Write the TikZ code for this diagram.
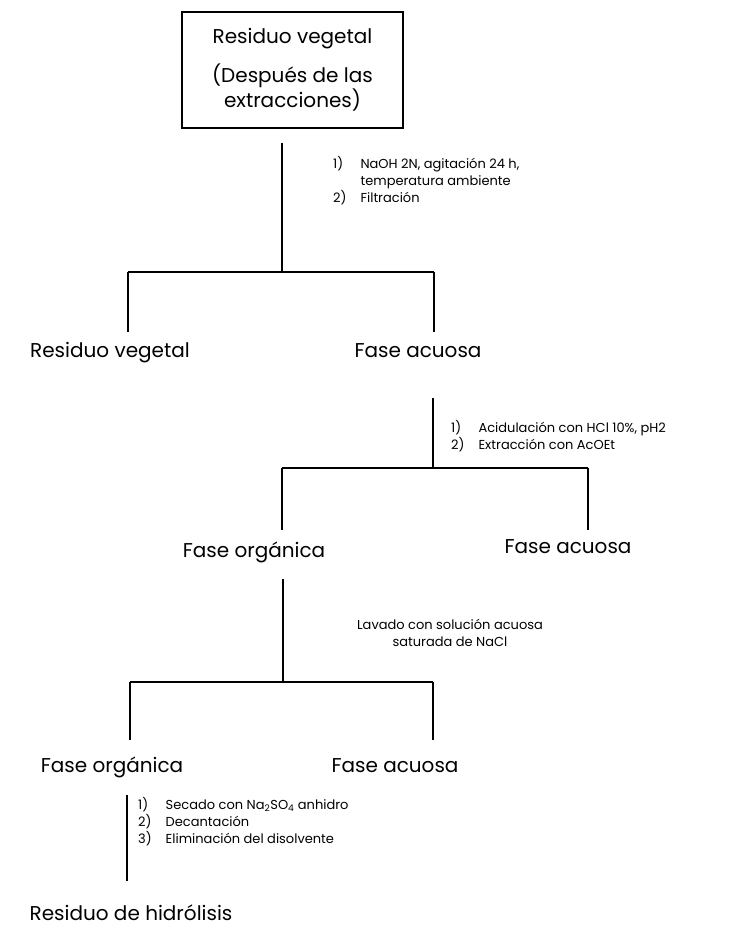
\documentclass[tikz,border=0pt]{standalone}
\usepackage{fontspec}
\setmainfont{Poppins}
\usetikzlibrary{positioning}

\begin{document}
\begin{tikzpicture}[x=1pt,y=-1pt,
		linea/.style={line width=1.7pt},
		fase/.style={font=\fontsize{20}{24}\selectfont, inner sep=1pt, text height=14pt, text depth=4pt},
		paso/.style={font=\fontsize{13}{17}\selectfont, inner sep=0pt, align=left}]
		\useasboundingbox (0,0) rectangle (741,939);
		\node[draw, linea, minimum width=221pt, minimum height=116pt, align=center, font=\fontsize{20}{22}\selectfont] (inicio) at (292.5,70) {Residuo vegetal\\[14pt](Después de las\\extracciones)};
		\node[fase] (resveg) at (110,352) {Residuo vegetal};
		\node[fase] (acu1) at (418,352) {Fase acuosa};
		\node[fase] (org2) at (254,552) {Fase orgánica};
		\node[fase] (acu2) at (568,548) {Fase acuosa};
		\node[fase] (org3) at (112,767) {Fase orgánica};
		\node[fase] (acu3) at (395,767) {Fase acuosa};
		\node[fase] (final) at (131,915) {Residuo de hidrólisis};
		\coordinate (b1) at (282,272);
		\coordinate (b1l) at (128,272);
		\coordinate (b1r) at (434,272);
		\coordinate (b2) at (433,468);
		\coordinate (b2l) at (282,468);
		\coordinate (b2r) at (588,468);
		\coordinate (b3) at (283,682);
		\coordinate (b3l) at (130,682);
		\coordinate (b3r) at (433,682);
		\coordinate (b4) at (127,800);
		\draw[linea, shorten <=14pt] (inicio.south -| b1) -- (b1);
		\draw[linea] (b1l) -- (b1r);
		\draw[linea, shorten >=10pt] (b1l) -- (b1l |- resveg.north);
		\draw[linea, shorten >=10pt] (b1r) -- (b1r |- acu1.north);
		\draw[linea, shorten <=36pt] (acu1.south -| b2) -- (b2);
		\draw[linea] (b2l) -- (b2r);
		\draw[linea, shorten >=12pt] (b2l) -- (b2l |- org2.north);
		\draw[linea, shorten >=8pt] (b2r) -- (b2r |- acu2.north);
		\draw[linea, shorten <=17pt] (org2.south -| b3) -- (b3);
		\draw[linea] (b3l) -- (b3r);
		\draw[linea, shorten >=17pt] (b3l) -- (b3l |- org3.north);
		\draw[linea, shorten >=17pt] (b3r) -- (b3r |- acu3.north);
		\draw[linea, shorten <=18pt, shorten >=24pt] (org3.south -| b4) -- (final.north -| b4);
		\node[paso, anchor=north west] (paso1) at (333,156) {\begin{tabular}{@{}l@{\hspace{14pt}}l@{}}1) & NaOH 2N, agitación 24 h,\\ & temperatura ambiente\\ 2) & Filtración\end{tabular}};
		\node[paso, anchor=north west] (paso2) at (451,420) {\begin{tabular}{@{}l@{\hspace{14pt}}l@{}}1) & Acidulación con HCl 10\%, pH2\\ 2) & Extracción con AcOEt\end{tabular}};
		\node[paso, align=center] (paso3) at (450,633) {Lavado con solución acuosa\\saturada de NaCl};
		\node[paso, anchor=north west] (paso4) at (138,797) {\begin{tabular}{@{}l@{\hspace{14pt}}l@{}}1) & Secado con Na\textsubscript{2}SO\textsubscript{4} anhidro\\ 2) & Decantación\\ 3) & Eliminación del disolvente\end{tabular}};
	\end{tikzpicture}
\end{document}
